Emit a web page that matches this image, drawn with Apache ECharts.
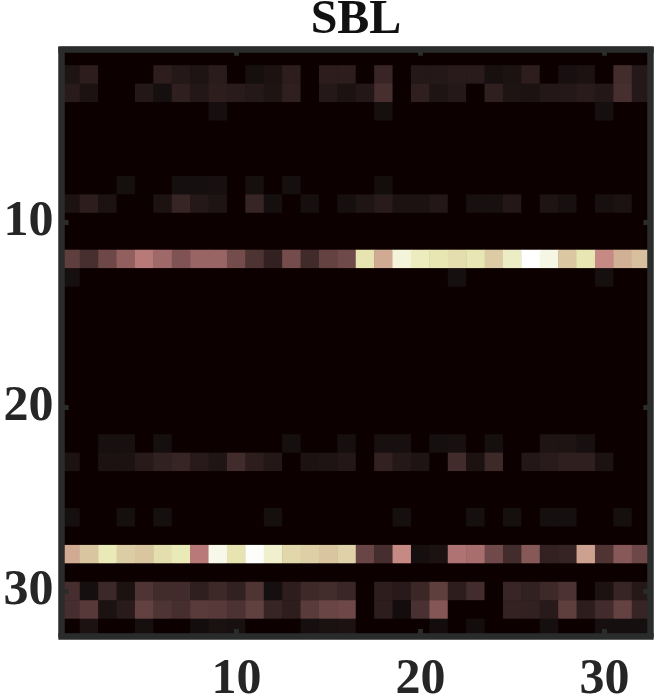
<!DOCTYPE html>
<html><head><meta charset="utf-8">
<style>html,body{margin:0;padding:0;background:#fff}#c{width:656px;height:696px}</style>
<script src="https://cdn.jsdelivr.net/npm/echarts@6/dist/echarts.min.js"></script>
</head><body><div id="c"></div>
<script>
const title = "SBL";
const cats = Array.from({length:32},(_,i)=>String(i+1));
const tickLabels = ["10","20","30"];
// values in thousandths of the colormap range, per matrix row (1-based row number)
const row2  = [9,20,0,0,0,20,14,9,18,0,5,8,20,0,20,20,0,32,0,14,14,17,17,6,8,20,0,6,8,0,45,14];
const row3  = [17,8,0,0,12,5,22,12,20,17,14,9,22,0,14,8,12,52,0,22,9,14,0,22,9,8,13,14,17,12,52,14];
const row4  = [0,0,0,0,0,0,0,0,5,0,0,0,0,0,0,0,0,5,0,0,0,0,0,0,0,0,0,0,0,5,0,0];
const row8  = [0,0,0,5,0,0,5,5,6,0,5,0,5,0,0,0,0,4,0,0,0,0,0,0,0,0,0,0,0,0,0,0];
const row9  = [8,20,8,0,0,8,30,14,9,0,30,5,0,5,0,5,10,17,8,8,13,0,6,6,12,0,9,6,0,6,8,0];
const row12 = [90,52,120,210,335,253,160,230,230,133,60,25,135,40,100,125,730,500,870,780,740,700,740,620,800,1000,900,610,740,400,520,580];
const row13 = [5,0,0,0,0,0,0,0,0,0,0,0,0,0,0,0,0,0,0,0,0,5,0,0,0,0,0,0,0,5,0,0];
const row22 = [0,0,6,6,0,5,0,0,0,0,0,0,5,0,0,5,0,6,6,0,5,6,0,5,0,0,9,9,6,0,0,0];
const row23 = [8,0,8,8,16,24,30,16,10,42,20,12,0,8,9,13,0,25,14,9,0,42,8,38,0,13,17,22,22,8,0,0];
const row26 = [5,0,0,5,0,5,0,0,0,0,0,5,0,0,0,0,0,0,5,0,0,0,5,0,5,0,5,5,0,0,5,0];
const row28 = [500,600,760,630,600,700,760,340,920,730,980,830,670,640,600,650,110,48,400,5,8,305,280,125,45,180,25,28,470,63,180,120];
const row30 = [50,5,36,8,62,42,42,22,38,24,62,5,20,38,45,33,0,20,16,35,90,20,45,0,32,24,38,58,0,8,30,14];
const row31 = [48,76,8,17,98,62,48,80,76,58,94,30,20,80,108,120,0,20,4,55,172,0,0,0,26,24,16,90,20,42,100,30];
const row32 = [0,8,0,0,5,0,0,4,7,6,0,0,0,5,7,8,0,0,0,0,4,0,4,0,0,0,5,0,0,5,5,5];

const rows = {2:row2,3:row3,4:row4,8:row8,9:row9,12:row12,13:row13,22:row22,23:row23,26:row26,28:row28,30:row30,31:row31,32:row32};
const data = [];
for (let r=1;r<=32;r++) for (let c=0;c<32;c++) data.push([c,r-1,rows[r]?rows[r][c]:0]);

// MATLAB-style "pink" colormap
const clip=v=>Math.max(0,Math.min(1,v));
const stops=[];
for(let i=0;i<=1024;i++){const x=i/1024;
  const h=[clip(x/.375),clip((x-.375)/.375),clip((x-.75)/.25)];
  const c=h.map(v=>Math.round(255*Math.sqrt((2*x+v)/3)));
  c[0]=Math.max(13,c[0]);
  stops.push('rgb('+c.join(',')+')');}

const frame='#2a2c2c', ink='#262626', serif='Liberation Serif';
const show=(i)=>tickLabels.includes(String(i+1));
const tick={show:true,inside:true,length:7,alignWithLabel:true,interval:show,lineStyle:{color:frame,width:5}};
const lineX={show:true,onZero:false,lineStyle:{color:frame,width:6.5,cap:'square'}};
const lineY={show:true,onZero:false,lineStyle:{color:frame,width:6.5,cap:'butt'}};
const label={show:true,interval:show,fontFamily:serif,fontWeight:'bold',fontSize:50,color:ink,hideOverlap:false};
const chart=echarts.init(document.getElementById('c'),null,{renderer:'canvas'});
chart.setOption({
  animation:false,backgroundColor:'#fff',
  title:{text:title,left:356,top:-3,padding:0,textAlign:'center',textStyle:{fontFamily:serif,fontWeight:'bold',fontSize:48,color:'#111'}},
  grid:{left:61.6,top:47,width:588.8,height:590.4,show:true,borderWidth:0,backgroundColor:'#0d0000',outerBoundsMode:'none'},
  xAxis:[
    {type:'category',data:cats,position:'bottom',offset:-1.4,z:5,axisLine:lineX,axisTick:tick,axisLabel:{...label,margin:19},splitLine:{show:false},splitArea:{show:false}},
    {type:'category',data:cats,position:'top',offset:-1.8,z:5,axisLine:lineX,axisTick:tick,axisLabel:{show:false},splitLine:{show:false},splitArea:{show:false}}
  ],
  yAxis:[
    {type:'category',data:cats,inverse:true,position:'left',z:5,axisLine:lineY,axisTick:tick,axisLabel:{...label,margin:8,padding:[6,0,0,0]},splitLine:{show:false},splitArea:{show:false}},
    {type:'category',data:cats,inverse:true,position:'right',z:5,axisLine:lineY,axisTick:tick,axisLabel:{show:false},splitLine:{show:false},splitArea:{show:false}}
  ],
  visualMap:{show:false,min:0,max:1000,dimension:2,seriesIndex:0,inRange:{color:stops}},
  series:[{type:'heatmap',data,xAxisIndex:0,yAxisIndex:0,progressive:0,emphasis:{disabled:true},itemStyle:{borderWidth:0}}]
});
</script></body></html>
